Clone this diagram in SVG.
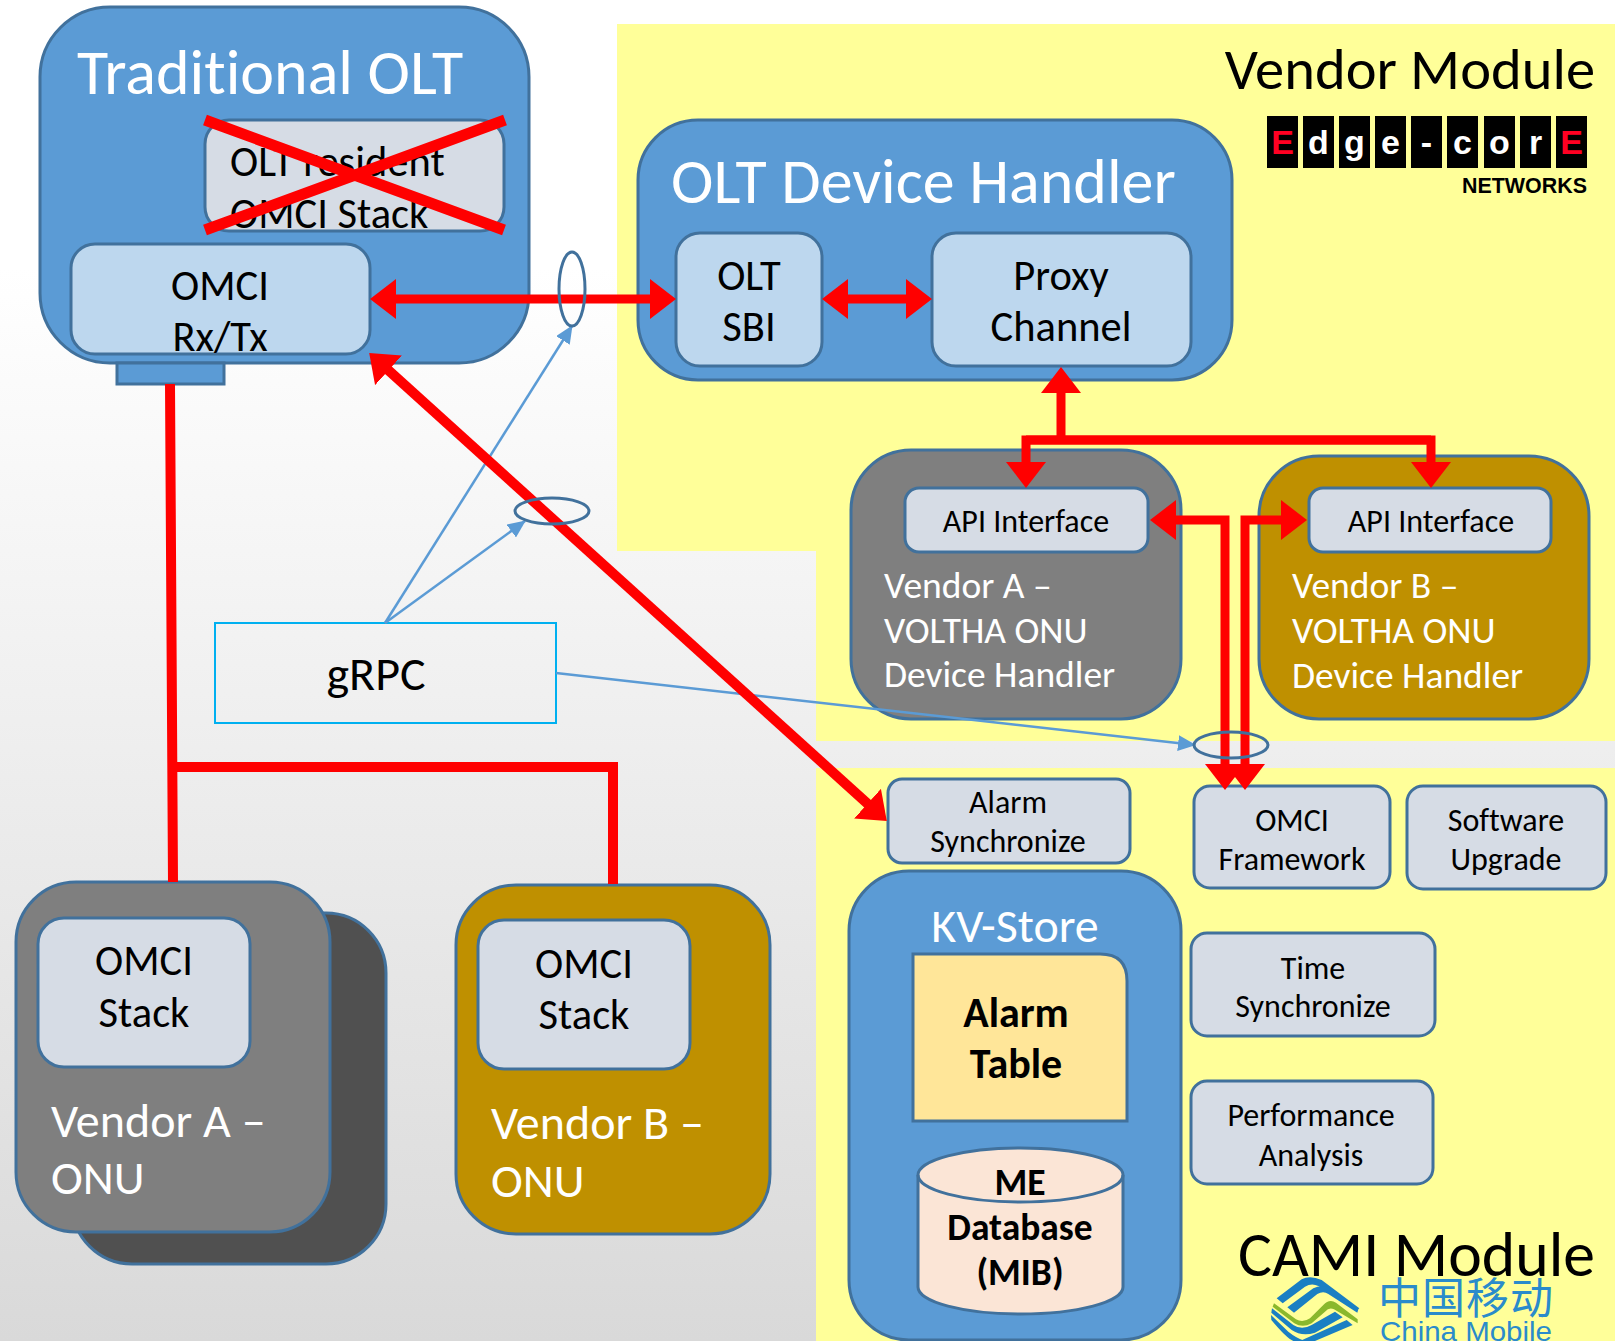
<svg xmlns="http://www.w3.org/2000/svg" width="1615" height="1341" viewBox="0 0 1615 1341">
<style>
text{font-family:Carlito,Calibri,Lato,"Open Sans",sans-serif;fill:#000;font-variant-ligatures:none}
.c{text-anchor:middle}
.w{fill:#fff}
.b{font-weight:700}
.s41{font-size:42.500px}
.s30{font-size:32px}
.s35{font-size:37.500px}
.s44{font-size:48px}
.s64{font-size:64px}
.blue{fill:#5b9bd5;stroke:#41719c;stroke-width:3}
.lb{fill:#bdd7ee;stroke:#41719c;stroke-width:3}
.gb{fill:#d6dce5;stroke:#41719c;stroke-width:3}
.gr{fill:#7f7f7f;stroke:#41719c;stroke-width:3}
.go{fill:#bf9000;stroke:#41719c;stroke-width:3}
.red{fill:none;stroke:#f00;stroke-width:9}
.thin{fill:none;stroke:#5b9bd5;stroke-width:2.500;marker-end:url(#ta)}
.el{fill:none;stroke:#41719c;stroke-width:3}
.lg{fill:#000}
.lt{font-family:"Liberation Sans",sans-serif;font-size:34px;font-weight:700;text-anchor:middle}
.cmb{fill:#1a7fc3}
</style>
<defs>
<linearGradient id="bg" x1="0" y1="0" x2="0" y2="1341" gradientUnits="userSpaceOnUse">
<stop offset="0.2" stop-color="#fff"/><stop offset="1" stop-color="#d9d9d9"/>
</linearGradient>
<marker id="rh" viewBox="0 0 26 40" refX="2" refY="20" markerWidth="26" markerHeight="40" markerUnits="userSpaceOnUse" orient="auto-start-reverse"><path d="M0 0L26 20L0 40Z" fill="#f00"/></marker>
<marker id="ta" viewBox="0 0 18 16" refX="17" refY="8" markerWidth="18" markerHeight="16" markerUnits="userSpaceOnUse" orient="auto"><path d="M0 0L18 8L0 16Z" fill="#5b9bd5"/></marker>
</defs>
<rect width="1615" height="1341" fill="url(#bg)"/>
<path d="M617 24H1615V741H816V551H617Z" fill="#ffff99"/>
<rect x="816" y="768" width="799" height="573" fill="#ffff99"/>
<text id="vendor-module-title" x="1595" y="89" text-anchor="end" style="font-size:58.500px">Vendor Module</text>
<text id="cami-module-title" x="1595" y="1276" text-anchor="end" style="font-size:63.700px">CAMI Module</text>

<g id="edgecore-logo">
<rect class="lg" x="1267" y="116" width="31" height="52"/><rect class="lg" x="1303" y="116" width="31" height="52"/><rect class="lg" x="1339" y="116" width="31" height="52"/><rect class="lg" x="1375" y="116" width="31" height="52"/><rect class="lg" x="1411" y="116" width="31" height="52"/><rect class="lg" x="1447" y="116" width="31" height="52"/><rect class="lg" x="1484" y="116" width="31" height="52"/><rect class="lg" x="1520" y="116" width="31" height="52"/><rect class="lg" x="1556" y="116" width="31" height="52"/>
<text class="lt" x="1282.500" y="154" style="fill:#f02">E</text><text class="lt" x="1318.500" y="154" style="fill:#fff">d</text><text class="lt" x="1354.500" y="154" style="fill:#fff">g</text><text class="lt" x="1390.500" y="154" style="fill:#fff">e</text><text class="lt" x="1426.500" y="154" style="fill:#fff">-</text><text class="lt" x="1462.500" y="154" style="fill:#fff">c</text><text class="lt" x="1499.500" y="154" style="fill:#fff">o</text><text class="lt" x="1535.500" y="154" style="fill:#fff">r</text><text class="lt" x="1571.500" y="154" style="fill:#f02">E</text>
<text x="1462" y="193" style="font-family:'Liberation Sans',sans-serif;font-size:22px;font-weight:700" textLength="125" lengthAdjust="spacingAndGlyphs">NETWORKS</text>
</g>

<g id="china-mobile-logo">
<g transform="translate(1260 1270) scale(.3333)">
<path class="cmb" d="M50 85L125 28Q150 15 185 30L298 115L290 122L175 48Q155 38 135 50L68 100Z"/>
<path class="cmb" d="M82 112L160 55Q185 42 210 55L295 118L292 128L205 72Q190 62 172 72L102 128Z"/>
<path fill="#8ab82c" d="M42 100L108 148Q128 160 150 145L190 105Q208 85 228 98L293 148L293 160L222 118Q208 110 195 125L155 160Q128 175 103 160L38 110Z"/>
<path class="cmb" d="M36 115L100 165Q125 182 155 165L225 125L248 142L165 188Q125 200 95 180L34 128Z"/>
<path class="cmb" d="M33 135L85 185Q110 205 135 213H100Q80 205 34 150Z"/>
<path class="cmb" d="M120 213L260 150L278 165L165 213Z"/>
</g>
<text x="1378" y="1314" style="font-family:'Noto Sans CJK SC',sans-serif;font-size:43px;fill:#2a8bcb" textLength="175">中国移动</text>
<text x="1380" y="1341" style="font-family:'Liberation Sans',sans-serif;font-size:28px;fill:#2a8bcb" textLength="172" lengthAdjust="spacingAndGlyphs">China Mobile</text>
</g>

<g id="traditional-olt">
<rect class="blue" x="40" y="7" width="489" height="356" rx="70"/>
<rect class="blue" x="117" y="363" width="107" height="21"/>
<text x="77" y="94" class="w s64">Traditional OLT</text>
</g>
<g id="olt-resident">
<rect class="gb" x="205" y="120" width="299" height="111" rx="24"/>
<text x="230" y="176" class="s41">OLT resident</text>
<text x="230" y="228" class="s41">OMCI Stack</text>
</g>
<g id="omci-rxtx">
<rect class="lb" x="71" y="244" width="299" height="110" rx="24"/>
<text x="220" y="300" class="c s41">OMCI</text>
<text x="220" y="351" class="c s41">Rx/Tx</text>
</g>
<g id="olt-device-handler">
<rect class="blue" x="638" y="120" width="594" height="260" rx="60"/>
<text x="671" y="203" class="w s64">OLT Device Handler</text>
</g>
<g id="olt-sbi">
<rect class="lb" x="676" y="233" width="146" height="133" rx="24"/>
<text x="749" y="290" class="c s41">OLT</text><text x="749" y="341" class="c s41">SBI</text>
</g>
<g id="proxy-channel">
<rect class="lb" x="932" y="233" width="259" height="133" rx="24"/>
<text x="1061" y="290" class="c s41">Proxy</text><text x="1061" y="341" class="c s41">Channel</text>
</g>
<g id="vendor-a-handler">
<rect class="gr" x="851" y="450" width="330" height="269" rx="60"/>
<text x="884" y="598" class="w s35">Vendor A –</text><text x="884" y="643" class="w s35">VOLTHA ONU</text><text x="884" y="687" class="w s35">Device Handler</text>
</g>
<g id="vendor-a-api">
<rect class="gb" x="905" y="488" width="243" height="64" rx="14"/>
<text x="1026" y="532" class="c s30">API Interface</text>
</g>
<g id="vendor-b-handler">
<rect class="go" x="1259" y="456" width="330" height="263" rx="60"/>
<text x="1292" y="598" class="w s35">Vendor B –</text><text x="1292" y="643" class="w s35">VOLTHA ONU</text><text x="1292" y="688" class="w s35">Device Handler</text>
</g>
<g id="vendor-b-api">
<rect class="gb" x="1309" y="488" width="242" height="64" rx="14"/>
<text x="1431" y="532" class="c s30">API Interface</text>
</g>
<g id="alarm-sync">
<rect class="gb" x="888" y="779" width="242" height="84" rx="14"/>
<text x="1008" y="813" class="c s30">Alarm</text><text x="1008" y="852" class="c s30">Synchronize</text>
</g>
<g id="omci-framework">
<rect class="gb" x="1194" y="786" width="196" height="102" rx="16"/>
<text x="1292" y="831" class="c s30">OMCI</text><text x="1292" y="870" class="c s30">Framework</text>
</g>
<g id="software-upgrade">
<rect class="gb" x="1407" y="786" width="199" height="103" rx="16"/>
<text x="1506" y="831" class="c s30">Software</text><text x="1506" y="870" class="c s30">Upgrade</text>
</g>
<g id="time-sync">
<rect class="gb" x="1191" y="933" width="244" height="103" rx="16"/>
<text x="1313" y="979" class="c s30">Time</text><text x="1313" y="1017" class="c s30">Synchronize</text>
</g>
<g id="performance-analysis">
<rect class="gb" x="1191" y="1081" width="242" height="103" rx="16"/>
<text x="1311" y="1126" class="c s30">Performance</text><text x="1311" y="1166" class="c s30">Analysis</text>
</g>
<g id="kv-store">
<rect class="blue" x="849" y="871" width="332" height="469" rx="60"/>
<text x="1015" y="942" class="c w" style="font-size:48px">KV-Store</text>
</g>
<g id="alarm-table">
<path d="M913 954H1100Q1127 954 1127 981V1121H913Z" fill="#ffe699" stroke="#41719c" stroke-width="3"/>
<text x="1016" y="1027" class="c b" style="font-size:42px">Alarm</text><text x="1016" y="1078" class="c b" style="font-size:42px">Table</text>
</g>
<g id="me-database">
<path d="M918 1175A102.500 27 0 0 1 1123 1175V1287A102.500 27 0 0 1 918 1287Z" fill="#fbe5d6" stroke="#41719c" stroke-width="3"/>
<path d="M918 1175A102.500 27 0 0 0 1123 1175" fill="none" stroke="#41719c" stroke-width="3"/>
<text x="1020" y="1195" class="c b s35">ME</text><text x="1020" y="1240" class="c b s35">Database</text><text x="1020" y="1285" class="c b s35">(MIB)</text>
</g>
<g id="vendor-a-onu">
<rect x="72" y="913" width="314" height="351" rx="60" fill="#505050" stroke="#41719c" stroke-width="3"/>
<rect class="gr" x="16" y="882" width="314" height="350" rx="60"/>
<text x="51" y="1137" class="w s44">Vendor A –</text><text x="51" y="1194" class="w s44">ONU</text>
</g>
<g id="vendor-a-stack">
<rect class="gb" x="38" y="918" width="212" height="149" rx="26"/>
<text x="144" y="975" class="c s41">OMCI</text><text x="144" y="1027" class="c s41">Stack</text>
</g>
<g id="vendor-b-onu">
<rect class="go" x="456" y="885" width="314" height="349" rx="60"/>
<text x="491" y="1139" class="w s44">Vendor B –</text><text x="491" y="1197" class="w s44">ONU</text>
</g>
<g id="vendor-b-stack">
<rect class="gb" x="478" y="920" width="212" height="149" rx="26"/>
<text x="584" y="978" class="c s41">OMCI</text><text x="584" y="1029" class="c s41">Stack</text>
</g>
<g id="grpc">
<rect x="215" y="623" width="341" height="100" fill="none" stroke="#00b0f0" stroke-width="2"/>
<text x="376" y="690" class="c" style="font-size:48px">gRPC</text>
</g>

<g id="connectors">
<path class="thin" d="M385 623L572 326"/>
<path class="thin" d="M385 623L525 521"/>
<path class="thin" d="M556 673L1195 745"/>
<path d="M170 384L173 882M172 767H613V884" style="fill:none;stroke:#f00;stroke-width:10"/>
<path d="M205 120L504 230M505 120L205 230" style="fill:none;stroke:#f00;stroke-width:11"/>
<path class="red" d="M394 299H652" marker-start="url(#rh)" marker-end="url(#rh)"/>
<path class="red" d="M846 299H908" marker-start="url(#rh)" marker-end="url(#rh)"/>
<path class="red" d="M1061 391V437" marker-start="url(#rh)"/>
<path class="red" d="M1026 440H1431V464" marker-end="url(#rh)"/>
<path class="red" d="M1431 440H1026V464" marker-end="url(#rh)"/>
<path class="red" d="M1174 520H1225V766" marker-start="url(#rh)" marker-end="url(#rh)"/>
<path class="red" d="M1283 520H1245V766" marker-start="url(#rh)" marker-end="url(#rh)"/>
<path d="M387 369L869 805" style="fill:none;stroke:#f00;stroke-width:10" marker-start="url(#rh)" marker-end="url(#rh)"/>
<ellipse class="el" cx="572" cy="289" rx="13" ry="37"/>
<ellipse class="el" cx="552" cy="511" rx="37" ry="13"/>
<ellipse class="el" cx="1231" cy="745" rx="37" ry="13"/>
</g>
</svg>
